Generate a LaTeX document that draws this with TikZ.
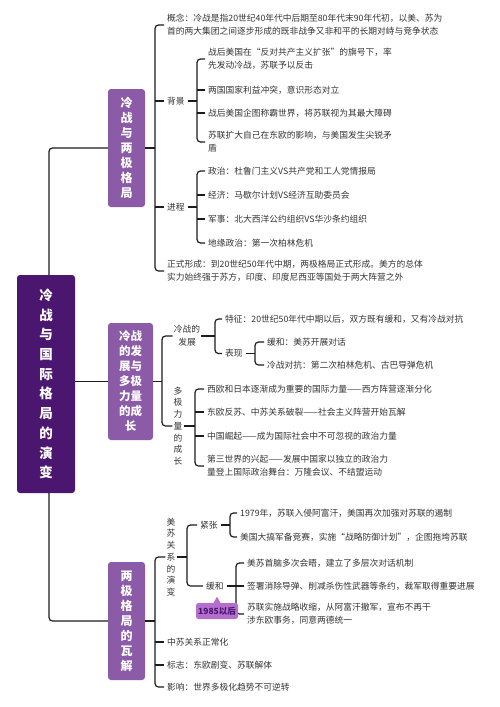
\documentclass[tikz,border=0pt]{standalone}
\usepackage{fontspec}
\usepackage{xcolor,tikz}
\usetikzlibrary{positioning}
\newfontfamily\cjk{Noto Sans CJK SC}
\definecolor{rootpurple}{HTML}{4A1670}
\definecolor{branchpurple}{HTML}{8C5BA8}
\definecolor{tagpurple}{HTML}{B56ECE}
\definecolor{ink}{HTML}{333333}
\definecolor{wire}{HTML}{1C1C1C}

\begin{document}
\begin{tikzpicture}[x=1pt,y=-1pt,font=\cjk\fontsize{8.75}{13}\selectfont,text=ink,
txt/.style={anchor=west,inner xsep=3pt,inner ysep=1pt,align=left},
vtxt/.style={align=center,inner sep=1pt,font=\cjk\fontsize{8.75}{11.7}\selectfont},
mid/.style={align=center,inner sep=1pt},
topic/.style={fill=branchpurple,rounded corners=3pt,text=white,align=center,minimum width=37pt,
minimum height=118pt,font=\cjk\bfseries\fontsize{12}{15}\selectfont},
link/.style={draw=wire,line width=1.2pt,rounded corners=3.5pt}]
\useasboundingbox (0,0) rectangle (500,707);
\node[fill=rootpurple,rounded corners=3pt,text=white,align=center,minimum width=58pt,minimum height=218pt,
font=\cjk\bfseries\fontsize{13.5}{19.7}\selectfont] (root) at (46,384) {冷\\战\\与\\国\\际\\格\\局\\的\\演\\变};
\node[topic] (pattern) at (126.5,148) {冷\\战\\与\\两\\极\\格\\局};
\node[topic,minimum width=45pt,minimum height=117pt,font=\cjk\bfseries\fontsize{11.5}{15}\selectfont] (growth) at (130.5,381.5) {冷战\\的发\\展与\\多极\\力量\\的成\\长};
\node[topic] (collapse) at (126.5,621) {两\\极\\格\\局\\的\\瓦\\解};
\node[txt] (concept) at (164,25) {概念：冷战是指20世纪40年代中后期至80年代末90年代初，以美、苏为\\首的两大集团之间逐步形成的既非战争又非和平的长期对峙与竞争状态};
\node[txt] (background) at (164,101) {背景};
\node[txt] (bg1) at (205,59) {战后美国在“反对共产主义扩张”的旗号下，率\\先发动冷战，苏联予以反击};
\node[txt] (bg2) at (205,90) {两国国家利益冲突，意识形态对立};
\node[txt] (bg3) at (205,113) {战后美国企图称霸世界，将苏联视为其最大障碍};
\node[txt] (bg4) at (205,142) {苏联扩大自己在东欧的影响，与美国发生尖锐矛\\盾};
\node[txt] (process) at (164,207) {进程};
\node[txt] (pr1) at (205,171) {政治：杜鲁门主义VS共产党和工人党情报局};
\node[txt] (pr2) at (205,195) {经济：马歇尔计划VS经济互助委员会};
\node[txt] (pr3) at (205,219) {军事：北大西洋公约组织VS华沙条约组织};
\node[txt] (pr4) at (205,243) {地缘政治：第一次柏林危机};
\node[txt] (formed) at (164,271) {正式形成：到20世纪50年代中期，两极格局正式形成。美方的总体\\实力始终强于苏方，印度、印度尼西亚等国处于两大阵营之外};
\node[mid] (development) at (187,336) {冷战的\\发展};
\node[txt] (feature) at (222,319) {特征：20世纪50年代中期以后，双方既有缓和，又有冷战对抗};
\node[txt] (showing) at (222,353.5) {表现};
\node[txt] (ease) at (264,342) {缓和：美苏开展对话};
\node[txt] (clash) at (264,365) {冷战对抗：第二次柏林危机、古巴导弹危机};
\node[vtxt] (multipolar) at (178,426) {多\\极\\力\\量\\的\\成\\长};
\node[txt] (mp1) at (204,389) {西欧和日本逐渐成为重要的国际力量——西方阵营逐渐分化};
\node[txt] (mp2) at (204,412) {东欧反苏、中苏关系破裂——社会主义阵营开始瓦解};
\node[txt] (mp3) at (204,436) {中国崛起——成为国际社会中不可忽视的政治力量};
\node[txt] (mp4) at (204,466) {第三世界的兴起——发展中国家以独立的政治力\\量登上国际政治舞台：万隆会议、不结盟运动};
\node[vtxt] (relations) at (171,557) {美\\苏\\关\\系\\的\\演\\变};
\node[txt] (tension) at (197,525) {紧张};
\node[txt] (tn1) at (237,513) {1979年，苏联入侵阿富汗，美国再次加强对苏联的遏制};
\node[txt] (tn2) at (237,537) {美国大搞军备竞赛，实施“战略防御计划”，企图拖垮苏联};
\node[txt] (relax) at (203,586) {缓和};
\node[txt] (rx1) at (244,563) {美苏首脑多次会晤，建立了多层次对话机制};
\node[txt] (rx2) at (244,586) {签署消除导弹、削减杀伤性武器等条约，裁军取得重要进展};
\node[txt] (rx3) at (244,614) {苏联实施战略收缩，从阿富汗撤军，宣布不再干\\涉东欧事务，同意两德统一};
\node[txt] (normal) at (164,642) {中苏关系正常化};
\node[txt] (sign) at (164,665) {标志：东欧剧变、苏联解体};
\node[txt] (impact) at (164,687) {影响：世界多极化趋势不可逆转};
\coordinate (s-pattern) at (155,148);
\coordinate (s-bg) at (197,101);
\coordinate (s-pr) at (197,207);
\coordinate (s-growth) at (162,381.5);
\coordinate (s-dev) at (215,336);
\coordinate (s-show) at (255,353.5);
\coordinate (s-mp) at (195,426);
\coordinate (s-collapse) at (155,621);
\coordinate (s-rel) at (187,557);
\coordinate (s-ten) at (230,525);
\coordinate (s-rlx) at (236,586);
\draw[link] (pattern.west) -| ([xshift=3pt]root.north);
\draw[link] (collapse.west) -| ([xshift=3pt]root.south);
\draw[link] (root.east |- growth) -- (growth.west);
\draw[link] (pattern) -- (s-pattern);
\draw[link] (concept.west) -| (s-pattern) |- (formed.west);
\draw[link] (s-pattern |- background.west) -- (background.west);
\draw[link] (s-pattern |- process.west) -- (process.west);
\draw[link] (background) -- (s-bg);
\draw[link] (bg1.west) -| (s-bg) |- (bg4.west);
\draw[link] (s-bg |- bg2.west) -- (bg2.west);
\draw[link] (s-bg |- bg3.west) -- (bg3.west);
\draw[link] (process) -- (s-pr);
\draw[link] (pr1.west) -| (s-pr) |- (pr4.west);
\draw[link] (s-pr |- pr2.west) -- (pr2.west);
\draw[link] (s-pr |- pr3.west) -- (pr3.west);
\draw[link] (growth) -- (s-growth);
\draw[link] (development.west) -| (s-growth) |- (multipolar.west);
\draw[link] (development) -- (s-dev);
\draw[link] (feature.west) -| (s-dev) |- (showing.west);
\draw[link] (showing) -- (s-show);
\draw[link] (ease.west) -| (s-show) |- (clash.west);
\draw[link] (multipolar) -- (s-mp);
\draw[link] (mp1.west) -| (s-mp) |- (mp4.west);
\draw[link] (s-mp |- mp2.west) -- (mp2.west);
\draw[link] (s-mp |- mp3.west) -- (mp3.west);
\draw[link] (collapse.east |- s-collapse) -- (s-collapse);
\draw[link] (relations.west) -| (s-collapse) |- (impact.west);
\draw[link] (s-collapse |- normal.west) -- (normal.west);
\draw[link] (s-collapse |- sign.west) -- (sign.west);
\draw[link] (relations) -- (s-rel);
\draw[link] (tension.west) -| (s-rel) |- (relax.west);
\draw[link] (tension) -- (s-ten);
\draw[link] (tn1.west) -| (s-ten) |- (tn2.west);
\draw[link] (relax) -- (s-rlx);
\draw[link] (rx1.west) -| (s-rlx) |- (rx3.west);
\draw[link] (s-rlx) -- (rx2.west);
\node[fill=tagpurple,text=rootpurple,rounded corners=2.5pt,minimum width=42pt,minimum height=16pt,inner sep=1pt,
font=\cjk\bfseries\fontsize{8.5}{10}\selectfont] (since85) at (217,611) {1985以后};
\fill[tagpurple] (since85.north) ++(-4,1) -- ++(4,-7) -- ++(4,7) -- cycle;
\end{tikzpicture}
\end{document}
